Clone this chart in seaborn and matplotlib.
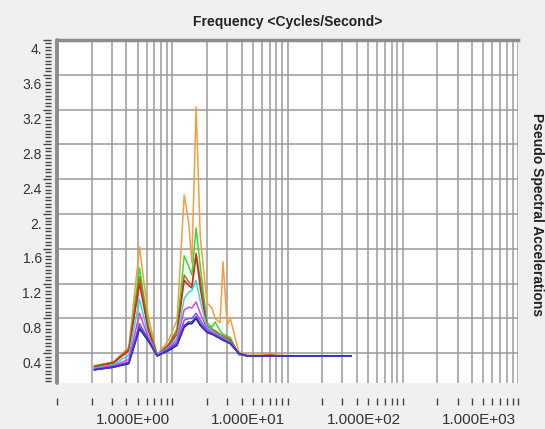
import numpy as np
import pandas as pd
import matplotlib
matplotlib.use("Agg")
import matplotlib.pyplot as plt
import matplotlib.transforms as mtrans
from matplotlib.ticker import LogLocator, FixedLocator, FixedFormatter, MultipleLocator, NullFormatter
import seaborn as sns

# ---------------- data ----------------
freq = [0.21, 0.31, 0.42, 0.52, 0.62, 0.74, 0.93, 1.10, 1.27, 1.39, 1.48, 1.61, 1.75, 2.00,
        2.21, 2.36, 2.60, 2.76, 2.99, 3.19, 3.77, 4.46, 5.8, 7.1, 8.2, 10.6, 19.4, 35.8]

orange = [0.26, 0.30, 0.47, 1.62, 0.82, 0.38, 0.55, 0.78, 2.22, 1.90, 1.44, 3.23, 1.74, 0.98,
          0.92, 0.80, 0.75, 1.45, 0.72, 0.80, 0.42, 0.38, 0.38, 0.39, 0.38, 0.37, 0.37, 0.37]
green = [0.24, 0.29, 0.44, 1.38, 0.72, 0.38, 0.50, 0.68, 1.52, 1.40, 1.30, 1.84, 1.40, 0.75,
         0.70, 0.76, 0.66, 0.62, 0.60, 0.58, 0.38, 0.37, 0.37, 0.37, 0.37, 0.37, 0.37, 0.37]
olive = [0.25, 0.30, 0.45, 1.28, 0.70, 0.38, 0.50, 0.66, 1.30, 1.22, 1.18, 1.55, 1.25, 0.72,
         0.68, 0.66, 0.62, 0.60, 0.58, 0.56, 0.40, 0.37, 0.37, 0.37, 0.37, 0.37, 0.37, 0.37]
red = [0.24, 0.29, 0.43, 1.20, 0.66, 0.38, 0.49, 0.62, 1.24, 1.18, 1.15, 1.53, 1.15, 0.70,
       0.66, 0.64, 0.60, 0.58, 0.56, 0.54, 0.40, 0.37, 0.37, 0.38, 0.37, 0.37, 0.37, 0.37]
cyan = [0.23, 0.27, 0.38, 1.02, 0.60, 0.38, 0.47, 0.58, 1.03, 1.10, 1.12, 1.24, 1.00, 0.70,
        0.66, 0.63, 0.60, 0.57, 0.55, 0.53, 0.40, 0.37, 0.37, 0.37, 0.37, 0.37, 0.37, 0.37]
magenta = [0.22, 0.26, 0.33, 0.86, 0.58, 0.37, 0.46, 0.55, 0.90, 0.93, 0.92, 0.99, 0.86, 0.68,
           0.64, 0.62, 0.59, 0.56, 0.54, 0.52, 0.40, 0.37, 0.37, 0.37, 0.37, 0.37, 0.37, 0.37]
purple = [0.21, 0.25, 0.30, 0.74, 0.56, 0.37, 0.45, 0.52, 0.78, 0.80, 0.80, 0.86, 0.78, 0.66,
          0.63, 0.61, 0.58, 0.56, 0.54, 0.52, 0.40, 0.37, 0.37, 0.37, 0.37, 0.37, 0.37, 0.37]
navy = [0.21, 0.24, 0.28, 0.68, 0.54, 0.37, 0.43, 0.49, 0.70, 0.74, 0.74, 0.80, 0.72, 0.64,
        0.62, 0.60, 0.57, 0.55, 0.53, 0.51, 0.40, 0.37, 0.37, 0.37, 0.37, 0.37, 0.37, 0.37]
blue = [0.21, 0.24, 0.29, 0.70, 0.55, 0.37, 0.44, 0.50, 0.72, 0.76, 0.76, 0.82, 0.74, 0.64,
        0.62, 0.60, 0.57, 0.55, 0.53, 0.51, 0.40, 0.37, 0.37, 0.37, 0.37, 0.37, 0.37, 0.37]

series = {"orange": orange, "green": green, "olive": olive, "red": red, "cyan": cyan,
          "magenta": magenta, "purple": purple, "navy": navy, "blue": blue}
palette = {"orange": "#f0a040", "green": "#3ad83a", "olive": "#9a7a18", "red": "#d02828",
           "cyan": "#30d8d8", "magenta": "#d848d8", "purple": "#8a48f0", "navy": "#202060",
           "blue": "#3838e0"}

x_major = [0.1, 1, 10, 100, 1000]
x_labels = ["", "1.000E+00", "1.000E+01", "1.000E+02", "1.000E+03"]
y_major = [0.4, 0.8, 1.2, 1.6, 2.0, 2.4, 2.8, 3.2, 3.6, 4.0]
y_labels = ["0.4", "0.8", "1.2", "1.6", "2.", "2.4", "2.8", "3.2", "3.6", "4."]

title = "Frequency <Cycles/Second>"
right_label = "Pseudo Spectral Accelerations"

# ---------------- figure ----------------
sns.set_theme(style="white")
plt.rcParams["font.family"] = ["Liberation Sans", "DejaVu Sans"]

W, H = 545, 429
fig = plt.figure(figsize=(W / 100, H / 100), dpi=100, facecolor="#f0f0f0")
L, R, T, B = 57, 518, 40, 382.7
ax = fig.add_axes([L / W, 1 - B / H, (R - L) / W, (B - T) / H])
ax.set_facecolor("white")

rows = []
for name, vals in series.items():
    for f, v in zip(freq, vals):
        rows.append({"freq": f, "value": v, "series": name})
df = pd.DataFrame(rows)

sns.lineplot(data=df, x="freq", y="value", hue="series", hue_order=list(series.keys()),
             palette=palette, estimator=None, sort=False, linewidth=1.1, legend=False, ax=ax)

ax.set_xscale("log")
ax.set_xlim(0.1, 1000)
ax.set_ylim(0.062, 4.0)
ax.set_xlabel("")
ax.set_ylabel("")

# spines first (set_position resets ticks)
ax.spines["bottom"].set_position(("outward", 11))
ax.spines["bottom"].set_visible(False)
ax.spines["left"].set_position(("outward", 4))
ax.spines["left"].set_visible(False)
ax.spines["right"].set_visible(False)
ax.spines["top"].set_visible(True)
ax.spines["top"].set_color("#8c8c8c")
ax.spines["top"].set_linewidth(2.5)
ax.plot([0, 0], [0, 1], transform=ax.transAxes, color="#8c8c8c", lw=2.8, clip_on=False, zorder=5)

# x ticks
ax.xaxis.set_major_locator(FixedLocator(x_major))
ax.xaxis.set_major_formatter(FixedFormatter(x_labels))
ax.xaxis.set_minor_locator(LogLocator(base=10, subs=np.arange(2, 10)))
ax.xaxis.set_minor_formatter(NullFormatter())
ax.tick_params(axis="x", which="both", direction="out", length=5, width=1, color="#444444",
               bottom=True, top=False, pad=6, labelsize=11, labelcolor="#333333")

# y ticks
ax.yaxis.set_major_locator(FixedLocator(y_major))
ax.yaxis.set_major_formatter(FixedFormatter(y_labels))
ax.yaxis.set_minor_locator(MultipleLocator(0.04))
ax.tick_params(axis="y", which="major", direction="out", length=6, width=1, color="#444444",
               left=True, right=False, pad=1, labelsize=10, labelcolor="#333333")
ax.tick_params(axis="y", which="minor", direction="out", length=4, width=1, color="#444444",
               left=True, right=False)

# grid
ax.grid(True, which="both", axis="x", color="#9a9a9a", lw=1.1)
ax.grid(True, which="major", axis="y", color="#9a9a9a", lw=1.1)
ax.set_axisbelow(True)

xshift = mtrans.ScaledTranslation(-0.02, 0, fig.dpi_scale_trans)
for lbl in ax.get_xticklabels():
    lbl.set_horizontalalignment("right")
    lbl.set_transform(lbl.get_transform() + xshift)
yshift = mtrans.ScaledTranslation(0, -0.09, fig.dpi_scale_trans)
for lbl in ax.get_yticklabels():
    lbl.set_transform(lbl.get_transform() + yshift)

fig.text((L + R) / 2 / W, 1 - 22 / H, title, ha="center", va="center",
         fontsize=10, fontweight="bold", color="#222222")
fig.text(537.5 / W, 1 - 215 / H, right_label, ha="center", va="center", rotation=270,
         fontsize=10, fontweight="bold", color="#222222")

fig.savefig("out.png", dpi=100, facecolor=fig.get_facecolor())
